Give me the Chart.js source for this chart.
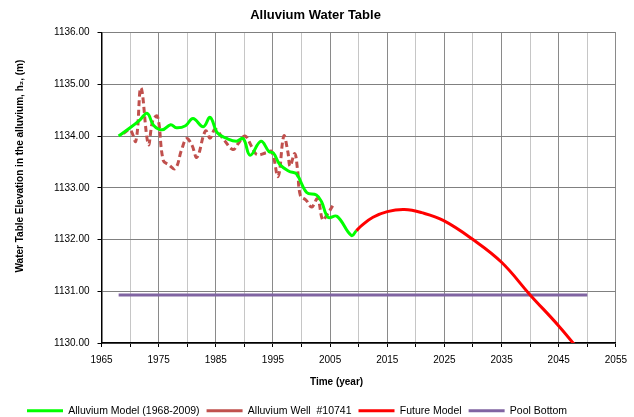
<!DOCTYPE html>
<html>
<head>
<meta charset="utf-8">
<script src="https://cdn.jsdelivr.net/npm/chart.js@4.4.1/dist/chart.umd.min.js"></script>
<style>
  html, body { margin: 0; padding: 0; background: #fff; }
</style>
</head>
<body>
<canvas id="chart" width="634" height="417"></canvas>
<script>
const modelYears = [1968, 1970, 1971.7, 1973, 1974.1, 1975.6, 1977.1, 1978.1, 1979.7, 1981, 1982.8, 1984, 1985.3, 1987, 1988.6, 1989.8, 1991, 1992.9, 1994.3, 1995.1, 1996.2, 1997.8, 1999.1, 2000.9, 2002.6, 2003.5, 2004.65, 2006.2, 2008.7, 2009.6]
const modelLevels = [1134.00, 1134.16, 1134.31, 1134.44, 1134.21, 1134.12, 1134.22, 1134.16, 1134.20, 1134.34, 1134.18, 1134.36, 1134.06, 1133.95, 1133.90, 1133.95, 1133.63, 1133.90, 1133.70, 1133.67, 1133.45, 1133.32, 1133.27, 1132.91, 1132.86, 1132.73, 1132.43, 1132.45, 1132.08, 1132.17]

const wellYears = [1968.8, 1970.0, 1971.0, 1971.9, 1973.2, 1974.0, 1974.8, 1975.8, 1976.7, 1977.9, 1979.0, 1979.9, 1980.8, 1981.7, 1983.2, 1984.0, 1984.9, 1986.4, 1988.0, 1988.9, 1990.1, 1991.3, 1992.2, 1993.9, 1994.8, 1995.9, 1996.9, 1997.6, 1998.0, 1998.8, 1999.3, 1999.8, 2000.8, 2001.8, 2002.8, 2003.7, 2004.4, 2005.6]
const wellLevels = [1134.05, 1134.12, 1133.90, 1134.93, 1133.84, 1134.31, 1134.38, 1133.53, 1133.45, 1133.37, 1133.73, 1133.95, 1133.83, 1133.59, 1134.10, 1133.96, 1134.13, 1133.93, 1133.74, 1133.85, 1134.00, 1133.79, 1133.64, 1133.68, 1133.70, 1133.22, 1134.00, 1133.70, 1133.42, 1133.66, 1133.35, 1132.85, 1132.76, 1132.63, 1132.79, 1132.38, 1132.47, 1132.68]

const futureYears = [2009.6, 2010.5, 2012.5, 2015, 2018, 2021, 2024.8, 2030, 2035, 2040, 2045, 2049]
const futureLevels = [1132.17, 1132.27, 1132.43, 1132.54, 1132.58, 1132.52, 1132.37, 1132.00, 1131.56, 1130.93, 1130.33, 1129.80]

const poolYears = [1968, 2050]
const poolLevels = [1130.93, 1130.93]

const seriesNames = ["Alluvium Model (1968-2009)", "Alluvium Well  #10741", "Future Model", "Pool Bottom"]
const xTitle = "Time (year)"
const yTitle = "Water Table Elevation in the alluvium, h\u2082, (m)"

const toPoints = (xs, ys) => xs.map((x, i) => ({x: x, y: ys[i]}))

Chart.defaults.font.family = '"Liberation Sans", Arial, sans-serif'
Chart.defaults.color = "#000"

// nudge the legend down/right to sit where the original one is
const legendShift = {
   id: "legendShift",
   afterLayout(chart) {
      const lg = chart.legend
      lg.top += 9
      lg.bottom += 9
      lg.left += 5
      lg.right += 5
   }
}

// excel puts the axis titles a bit off the middle of the plot area
const axisTitles = {
   id: "axisTitles",
   afterDraw(chart) {
      const {ctx, chartArea: a} = chart
      ctx.save()
      ctx.fillStyle = "#000"
      ctx.font = 'bold 10px "Liberation Sans", Arial, sans-serif'
      ctx.textAlign = "center"
      ctx.textBaseline = "middle"
      ctx.fillText(xTitle, a.left + (a.right - a.left) * 0.457, a.bottom + 39)
      ctx.translate(a.left - 81, a.top + (a.bottom - a.top) * 0.43)
      ctx.rotate(-Math.PI / 2)
      ctx.fillText(yTitle, 0, 0)
      ctx.restore()
   }
}

new Chart(document.getElementById("chart"), {
   type: "line",
   data: {
      datasets: [{
         label: seriesNames[0],
         data: toPoints(modelYears, modelLevels),
         borderColor: "#00ff00",
         backgroundColor: "#00ff00",
         borderWidth: 3,
         tension: 0.4,
      }, {
         label: seriesNames[1],
         data: toPoints(wellYears, wellLevels),
         borderColor: "#c0504d",
         backgroundColor: "#c0504d",
         borderWidth: 3,
         borderDash: [6, 3.5],
         tension: 0.4,
      }, {
         label: seriesNames[2],
         data: toPoints(futureYears, futureLevels),
         borderColor: "#ff0000",
         backgroundColor: "#ff0000",
         borderWidth: 3,
         tension: 0.4,
      }, {
         label: seriesNames[3],
         data: toPoints(poolYears, poolLevels),
         borderColor: "#8064a2",
         backgroundColor: "#8064a2",
         borderWidth: 3,
         tension: 0,
      }]
   },
   plugins: [legendShift, axisTitles],
   options: {
      responsive: false,
      animation: false,
      elements: {point: {radius: 0, hoverRadius: 0}},
      layout: {padding: {left: 15, right: 18, top: 0, bottom: 0}},
      plugins: {
         title: {
            display: true,
            text: "Alluvium Water Table",
            color: "#000",
            font: {size: 13, weight: "bold"},
            padding: {top: 8, bottom: 9},
         },
         legend: {
            position: "bottom",
            align: "start",
            labels: {
               usePointStyle: true,
               pointStyle: "line",
               pointStyleWidth: 36,
               padding: 7,
               color: "#000",
               font: {size: 10.5},
            }
         },
         tooltip: {enabled: false}
      },
      scales: {
         x: {
            type: "linear",
            min: 1965,
            max: 2055,
            afterFit: (scale) => { scale.height = 46.5 },
            ticks: {
               stepSize: 5,
               autoSkip: false,
               maxRotation: 0,
               padding: 7,
               font: {size: 10},
               callback: (v) => v % 10 === 5 ? String(v) : "",
            },
            grid: {
               color: (ctx) => ctx.tick && ctx.tick.value % 10 === 5 ? "#8a8a8a" : "#c6c6c6",
               tickColor: "#000",
               tickLength: 4,
            },
            border: {color: "#000", width: 1.5},
         },
         y: {
            min: 1130,
            max: 1136,
            afterFit: (scale) => { scale.width = 86.5 },
            ticks: {
               stepSize: 1,
               padding: 8,
               font: {size: 10},
               callback: (v) => v.toFixed(2),
            },
            grid: {
               color: "#808080",
               tickColor: "#000",
               tickLength: 4,
            },
            border: {color: "#000", width: 1.5},
         }
      }
   }
})
</script>
</body>
</html>
